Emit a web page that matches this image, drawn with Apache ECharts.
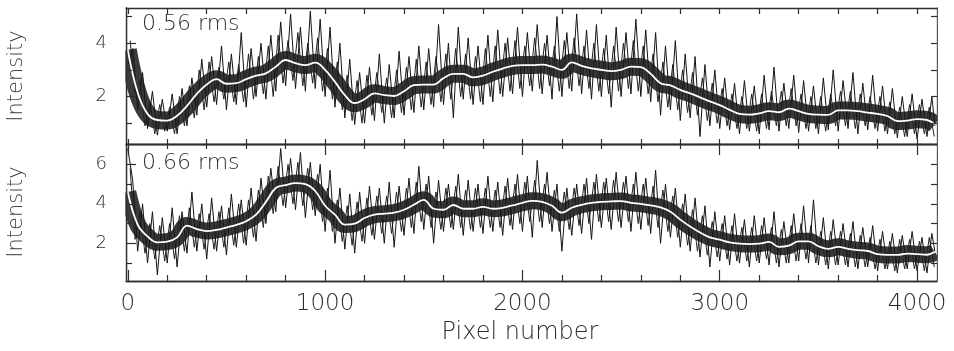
<!DOCTYPE html>
<html>
<head>
<meta charset="utf-8">
<script src="https://cdn.jsdelivr.net/npm/echarts@6/dist/echarts.min.js"></script>
<style>
html,body{margin:0;padding:0;background:#fff;}
#c{width:954px;height:351px;}
</style>
</head>
<body>
<div id="c"></div>
<script>
// ---- data ----
const smoothStep = 50;      // smooth curves sampled every 50 pixels, last point at 4090
const noiseStep = 25;       // outer noise trace: alternating dip / spike every 25 pixels, last point at 4090
const innerStep = 25;       // inner noise trace: alternating spike / dip every 25 pixels, starting at 12
const innerStart = 12;
const lastX = 4090;

const topSmooth = [3.75,2.15,1.35,1.12,1.10,1.28,1.65,2.10,2.45,2.65,
  2.48,2.50,2.65,2.78,2.87,3.12,3.37,3.25,3.18,3.27,
  3.00,2.55,2.05,1.75,1.90,2.12,2.05,2.02,2.20,2.43,
  2.45,2.45,2.69,2.85,2.85,2.72,2.78,2.93,3.05,3.15,
  3.18,3.18,3.20,3.12,3.00,3.28,3.15,3.06,3.00,2.95,
  3.00,3.12,3.10,2.85,2.50,2.42,2.25,2.12,1.97,1.82,
  1.68,1.50,1.35,1.32,1.37,1.45,1.41,1.55,1.45,1.35,
  1.32,1.31,1.48,1.48,1.45,1.40,1.35,1.27,1.08,1.10,
  1.15,1.12,0.96];

const bottomSmooth = [4.60,2.95,2.35,2.05,2.08,2.30,2.90,2.72,2.62,2.68,
  2.80,2.93,3.12,3.45,4.10,4.80,4.95,5.05,5.00,4.65,
  3.90,3.45,2.95,3.00,3.28,3.45,3.50,3.55,3.70,3.95,
  4.20,3.75,3.70,3.94,3.75,3.75,3.85,3.75,3.80,3.92,
  4.05,4.15,4.10,3.90,3.55,3.80,3.95,4.05,4.10,4.12,
  4.14,4.05,4.00,3.92,3.82,3.60,3.20,2.85,2.55,2.30,
  2.18,2.05,1.98,1.96,1.98,2.07,1.82,1.88,2.10,2.10,
  1.85,1.72,1.82,1.72,1.65,1.61,1.45,1.41,1.41,1.48,
  1.45,1.42,1.57];

const topNoise = [3.2,3.8, 1.5,2.9, 0.8,2.2, 0.55,1.9, 0.7,2.1, 0.6,2.3, 0.9,2.7, 1.3,3.4, 1.6,3.5, 1.7,3.9,
  1.5,3.6, 1.7,4.4, 1.6,3.8, 2.0,4.0, 1.9,4.3, 2.2,4.8, 2.4,5.1, 2.3,4.6, 2.2,5.2, 2.3,4.9,
  2.0,4.6, 1.6,4.0, 1.2,3.4, 0.95,2.9, 1.0,3.1, 1.1,3.6, 1.0,3.2, 1.2,3.7, 1.3,3.5, 1.4,3.9,
  1.5,3.8, 1.6,4.7, 1.7,4.0, 1.2,4.6, 1.9,4.2, 1.7,3.9, 1.7,4.3, 1.8,4.5, 2.0,4.2, 2.1,4.6,
  2.0,4.4, 2.2,4.7, 2.1,4.3, 1.9,5.0, 2.0,4.4, 2.2,5.1, 2.1,4.5, 1.9,4.7, 2.0,4.3, 1.6,4.6,
  2.0,4.4, 2.1,4.9, 2.0,4.5, 1.8,4.4, 1.3,3.9, 1.5,4.1, 1.1,3.6, 1.2,3.5, 0.5,3.2, 0.9,3.0,
  0.8,2.7, 0.75,2.5, 0.6,2.6, 0.7,2.4, 0.6,2.8, 0.75,3.1, 0.7,2.5, 0.8,2.8, 0.65,2.6, 0.7,2.4,
  0.6,2.7, 0.75,3.0, 0.7,2.6, 0.8,2.9, 0.6,2.5, 0.75,2.8, 0.7,2.4, 0.6,2.3, 0.45,2.0, 0.5,2.1,
  0.4,1.9, 0.5,2.0, 0.9];

const topInner = [4.1,2.1, 2.6,0.9, 1.8,0.6, 1.7,0.7, 1.6,0.6, 2.0,0.9, 2.4,1.2, 3.0,1.5, 3.3,1.8, 3.1,1.9,
  3.3,1.8, 3.2,1.8, 3.6,1.9, 3.5,2.1, 3.9,2.0, 4.3,2.5, 4.1,2.6, 4.4,2.4, 4.0,2.5, 4.2,2.2,
  3.8,1.9, 3.3,1.5, 2.8,1.1, 2.6,1.0, 2.8,1.3, 2.9,1.4, 2.7,1.2, 3.0,1.4, 3.1,1.5, 3.4,1.6,
  3.3,1.7, 3.5,1.8, 3.6,1.9, 3.8,2.0, 3.6,1.9, 3.5,1.8, 3.8,2.0, 3.9,2.1, 4.0,2.2, 4.1,2.3,
  3.9,2.4, 4.2,2.3, 4.0,2.4, 3.9,2.2, 4.1,2.3, 4.2,2.4, 3.9,2.3, 4.0,2.2, 3.8,2.1, 3.9,2.2,
  4.0,2.3, 4.1,2.2, 3.9,2.1, 3.6,1.8, 3.3,1.6, 3.2,1.5, 3.0,1.4, 2.9,1.3, 2.7,1.1, 2.5,1.0,
  2.3,0.9, 2.1,0.8, 2.0,0.8, 2.1,0.7, 2.1,0.8, 2.2,0.9, 2.2,0.9, 2.3,0.9, 2.1,0.8, 2.0,0.8,
  2.0,0.7, 2.1,0.9, 2.2,0.9, 2.2,0.8, 2.1,0.9, 2.0,0.8, 2.0,0.7, 1.8,0.6, 1.6,0.5, 1.7,0.6,
  1.7,0.6, 1.6,0.5];

const bottomNoise = [6.8,5.2, 1.6,4.0, 1.0,3.6, 0.4,3.3, 1.0,3.8, 0.8,3.6, 1.5,4.6, 1.6,4.0, 1.2,4.3, 1.6,3.9,
  1.4,4.5, 1.8,4.2, 1.9,4.8, 2.1,5.3, 3.0,5.8, 3.6,6.8, 3.8,6.3, 3.7,6.6, 3.3,6.1, 3.4,6.0,
  2.6,5.7, 2.0,4.8, 1.7,4.5, 1.5,4.6, 2.0,4.9, 2.2,4.8, 2.0,5.1, 1.8,4.9, 2.4,5.3, 2.5,5.9,
  2.7,5.4, 2.0,5.2, 2.6,5.0, 2.7,5.5, 2.4,5.2, 2.6,5.0, 2.5,5.4, 2.6,5.1, 2.4,5.3, 2.7,5.5,
  2.6,5.4, 2.3,6.2, 2.8,5.6, 2.6,5.0, 1.6,4.8, 2.4,5.0, 2.5,5.3, 2.2,5.5, 2.8,5.3, 2.7,5.6,
  2.8,5.4, 2.6,5.6, 2.7,5.3, 2.5,5.7, 2.0,5.0, 2.3,4.8, 1.8,4.5, 1.6,4.3, 1.3,3.9, 0.8,3.6,
  1.1,3.4, 0.9,3.5, 1.0,3.2, 0.8,3.4, 1.0,3.3, 0.9,3.6, 0.8,3.1, 1.0,3.5, 1.1,3.9, 1.0,4.2,
  0.9,3.3, 0.7,3.2, 0.9,3.0, 0.8,3.1, 0.7,2.8, 0.8,2.9, 0.6,2.6, 0.7,2.5, 0.5,2.4, 0.7,2.6,
  0.6,2.3, 0.5,2.5, 1.6];

const bottomInner = [5.8,2.2, 3.6,1.5, 3.0,1.2, 2.9,1.1, 3.0,1.2, 3.4,1.6, 3.8,1.8, 3.5,1.7, 3.5,1.7, 3.6,1.8,
  3.8,1.9, 4.0,2.0, 4.2,2.3, 4.7,2.8, 5.4,3.5, 5.9,3.9, 6.0,4.0, 6.1,3.9, 5.8,3.7, 5.5,3.1,
  4.8,2.6, 4.2,2.1, 3.9,1.9, 4.1,2.1, 4.3,2.4, 4.4,2.5, 4.4,2.5, 4.6,2.6, 4.8,2.8, 5.1,3.1,
  5.0,2.8, 4.6,2.7, 4.8,2.8, 4.9,2.8, 4.7,2.7, 4.8,2.8, 4.8,2.8, 4.7,2.8, 4.9,2.9, 5.0,3.0,
  5.1,3.1, 5.2,3.1, 5.0,3.0, 4.7,2.6, 4.6,2.7, 4.8,2.9, 5.0,3.0, 5.1,3.1, 5.1,3.1, 5.2,3.1,
  5.1,3.1, 5.0,3.0, 5.0,2.9, 4.9,2.8, 4.7,2.6, 4.4,2.3, 4.0,1.9, 3.7,1.6, 3.4,1.4, 3.1,1.3,
  3.0,1.2, 2.9,1.1, 2.8,1.1, 2.8,1.1, 2.9,1.2, 2.8,1.0, 2.7,1.0, 2.9,1.1, 3.0,1.2, 2.9,1.0,
  2.6,0.9, 2.6,0.9, 2.6,0.9, 2.5,0.8, 2.4,0.8, 2.3,0.7, 2.2,0.7, 2.1,0.6, 2.2,0.7, 2.2,0.7,
  2.1,0.6, 2.3,0.8];

const xMajorTicks = [0,1000,2000,3000,4000];
const xMinorTicks = [200,400,600,800,1200,1400,1600,1800,2200,2400,2600,2800,3200,3400,3600,3800];
const topYMajor = [2,4];
const topYMinor = [1,3,5];
const bottomYMajor = [2,4,6];
const bottomYMinor = [1,3,5];
const panelLabels = ['0.56 rms','0.66 rms'];

// ---- build ----
function pairs(arr, step){
  return arr.map((v,i)=> [i === arr.length-1 ? lastX : i*step, v]);
}
function innerPairs(arr){
  return arr.map((v,i)=> [innerStart + i*innerStep, v]);
}

const FONT = '"DejaVu Sans", sans-serif';
const INK = '#2e2e2e';
const axisLine = {show:true, onZero:false, lineStyle:{color:INK, width:1.3}};
const xRange = {min:-9, max:4101};

function xAx(grid, pos, ticks, len, labels){
  return {
    type:'value', gridIndex:grid, position:pos, ...xRange,
    axisLine, splitLine:{show:false}, z:10,
    axisTick:{show:true, inside:true, length:len, customValues:ticks, lineStyle:{color:INK,width:1.2}},
    axisLabel: labels ? {show:true, customValues:labels, margin:12, fontSize:23, color:INK, fontFamily:FONT, fontWeight:300,
                         formatter:v=>String(v)}
                      : {show:false}
  };
}
function yAx(grid, pos, range, ticks, len, labels){
  return {
    type:'value', gridIndex:grid, position:pos, min:range[0], max:range[1],
    axisLine, splitLine:{show:false}, z:10,
    axisTick:{show:true, inside:true, length:len, customValues:ticks, lineStyle:{color:INK,width:1.2}},
    axisLabel: labels ? {show:true, customValues:labels, margin:19, fontSize:18, color:INK, fontFamily:FONT, fontWeight:300,
                         formatter:v=>String(v)}
                      : {show:false}
  };
}

const allX = xMajorTicks.concat(xMinorTicks);
const topRange = [0.22, 5.32];
const botRange = [0.09, 7.03];

const option = {
  animation:false,
  backgroundColor:'#fff',
  grid:[
    {left:126, right:17, top:8, height:136},
    {left:126, right:17, top:144, height:137}
  ],
  xAxis:[
    xAx(0,'bottom', allX, 5),
    xAx(0,'top', allX, 6),
    xAx(1,'bottom', xMajorTicks, 11, xMajorTicks),
    xAx(1,'bottom', xMinorTicks, 6),
    xAx(1,'top', xMajorTicks, 11),
    xAx(1,'top', xMinorTicks, 5)
  ],
  yAxis:[
    yAx(0,'left', topRange, topYMajor, 10, topYMajor),
    yAx(0,'left', topRange, topYMinor, 6),
    yAx(0,'right', topRange, topYMajor.concat(topYMinor), 6),
    yAx(1,'left', botRange, bottomYMajor, 10, bottomYMajor),
    yAx(1,'left', botRange, bottomYMinor, 6),
    yAx(1,'right', botRange, bottomYMajor.concat(bottomYMinor), 6)
  ],
  series:[],
  graphic:[]
};

const panels = [
  {smooth:topSmooth, noise:topNoise, inner:topInner, xi:0, yi:0, core:18},
  {smooth:bottomSmooth, noise:bottomNoise, inner:bottomInner, xi:2, yi:3, core:17}
];
panels.forEach(p=>{
  option.series.push({
    type:'line', xAxisIndex:p.xi, yAxisIndex:p.yi, data:pairs(p.smooth, smoothStep),
    smooth:0.4, showSymbol:false, z:1, silent:true,
    lineStyle:{color:'#3a3a3a', width:p.core, join:'round', cap:'butt'}
  });
  option.series.push({
    type:'line', xAxisIndex:p.xi, yAxisIndex:p.yi, data:innerPairs(p.inner),
    showSymbol:false, z:2, silent:true,
    lineStyle:{color:'#222', width:1}
  });
  option.series.push({
    type:'line', xAxisIndex:p.xi, yAxisIndex:p.yi, data:pairs(p.noise, noiseStep),
    showSymbol:false, z:2, silent:true,
    lineStyle:{color:'#151515', width:1}
  });
  option.series.push({
    type:'line', xAxisIndex:p.xi, yAxisIndex:p.yi, data:pairs(p.smooth, smoothStep),
    smooth:0.4, showSymbol:false, z:3, silent:true,
    lineStyle:{color:'#ffffff', width:1.8}
  });
});

option.graphic = [
  // white masks just outside the plotting frames (the thick band is clipped with a margin by the library)
  {type:'rect', z:50, silent:true, shape:{x:108, y:4, width:17.3, height:281}, style:{fill:'#fff'}},
  {type:'rect', z:50, silent:true, shape:{x:937.8, y:4, width:17, height:281}, style:{fill:'#fff'}},
  {type:'text', z:60, left:142, top:13, style:{text:panelLabels[0], font:'300 22px "DejaVu Sans"', fill:INK}},
  {type:'text', z:60, left:142, top:152, style:{text:panelLabels[1], font:'300 22px "DejaVu Sans"', fill:INK}},
  {type:'text', z:60, x:17, y:76, rotation:Math.PI/2, style:{text:'Intensity', font:'300 21px "DejaVu Sans"', fill:'#444', align:'center', verticalAlign:'middle'}},
  {type:'text', z:60, x:17, y:212, rotation:Math.PI/2, style:{text:'Intensity', font:'300 21px "DejaVu Sans"', fill:'#444', align:'center', verticalAlign:'middle'}},
  {type:'text', z:60, x:520, y:333, style:{text:'Pixel number', font:'300 24px "DejaVu Sans"', fill:INK, align:'center', verticalAlign:'middle'}}
];

const chart = echarts.init(document.getElementById('c'), null, {renderer:'canvas'});
chart.setOption(option);
</script>
</body>
</html>
